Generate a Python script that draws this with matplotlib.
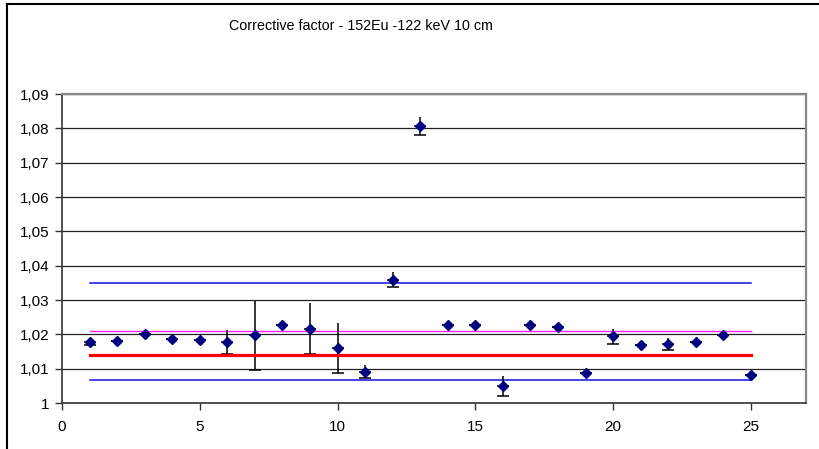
import numpy as np
import matplotlib.pyplot as plt
from matplotlib.lines import Line2D
from matplotlib.ticker import FuncFormatter, MultipleLocator

plt.rcParams['font.family'] = ['Liberation Sans', 'DejaVu Sans']

# measurement number, corrective factor and its uncertainty
runs = list(range(1, 26))
factor = [1.0177, 1.0182, 1.0201, 1.0187, 1.0184, 1.0177, 1.0197, 1.0228, 1.0217, 1.0160,
          1.0091, 1.0359, 1.0807, 1.0228, 1.0228, 1.0050, 1.0228, 1.0221, 1.0088, 1.0194,
          1.0170, 1.0171, 1.0177, 1.0197, 1.0082]
factor_err = [0.0007, 0.0, 0.0, 0.0, 0.0, 0.0035, 0.0100, 0.0, 0.0073, 0.0073,
              0.0019, 0.0022, 0.0027, 0.0, 0.0, 0.0030, 0.0, 0.0, 0.0, 0.0022,
              0.0, 0.0017, 0.0, 0.0, 0.0]

# reference levels drawn across the runs
mean_level = 1.0140
weighted_level = 1.0209
upper_limit = 1.0349
lower_limit = 1.0067

fig = plt.figure(figsize=(8.2, 4.49), dpi=100)
ax = fig.add_axes([0.0756, 0.1024, 0.9074, 0.6882])

x = np.array(runs)
y = np.array(factor)
e = np.array(factor_err)

# lower half of the bars has a cap, upper half has none
ax.errorbar(x, y, yerr=[e, np.zeros_like(e)], fmt='none', ecolor='black',
            elinewidth=1.1, capsize=4, capthick=1.1, zorder=3)
ax.errorbar(x, y, yerr=[np.zeros_like(e), e], fmt='none', ecolor='black',
            elinewidth=1.1, capsize=0, zorder=3)

ax.plot([runs[0], runs[-1]], [upper_limit] * 2, color='#1010e0', lw=1.1, zorder=2)
ax.plot([runs[0], runs[-1]], [lower_limit] * 2, color='#1010e0', lw=1.1, zorder=2)
ax.plot([runs[0], runs[-1]], [weighted_level] * 2, color='#ff20ff', lw=1.0, zorder=2)
ax.plot([runs[0], runs[-1]], [mean_level] * 2, color='#ff0000', lw=2.3, zorder=4)

ax.plot(x, y, linestyle='none', marker='D', markersize=5.5, color='#000080', zorder=5)

ax.set_xlim(0, 27)
ax.set_ylim(1.0, 1.09)
ax.xaxis.set_major_locator(MultipleLocator(5))
ax.yaxis.set_major_locator(MultipleLocator(0.01))
ax.yaxis.set_major_formatter(FuncFormatter(lambda v, p: ('%g' % round(v, 4)).replace('.', ',')))
ax.grid(axis='y', color='#222222', lw=0.9, zorder=1)
ax.set_axisbelow(True)

for s in ['top', 'right']:
    ax.spines[s].set_color('#888888')
    ax.spines[s].set_linewidth(1.6)
for s in ['left', 'bottom']:
    ax.spines[s].set_color('#333333')
    ax.spines[s].set_linewidth(1.2)

ax.tick_params(axis='both', direction='out', length=5, width=1, color='#333333',
               labelsize=11, labelcolor='black')
ax.tick_params(axis='x', pad=7)
ax.tick_params(axis='y', pad=4)

fig.text(0.44, 0.942, 'Corrective factor - 152Eu -122 keV 10 cm', ha='center', va='center',
         fontsize=10.3)

# outer chart frame
fig.add_artist(Line2D([0.0085, 0.0085], [0.0, 0.992], transform=fig.transFigure, color='black', lw=1.5))
fig.add_artist(Line2D([0.0085, 1.0], [0.992, 0.992], transform=fig.transFigure, color='black', lw=1.5))

fig.savefig('out.png', dpi=100)
